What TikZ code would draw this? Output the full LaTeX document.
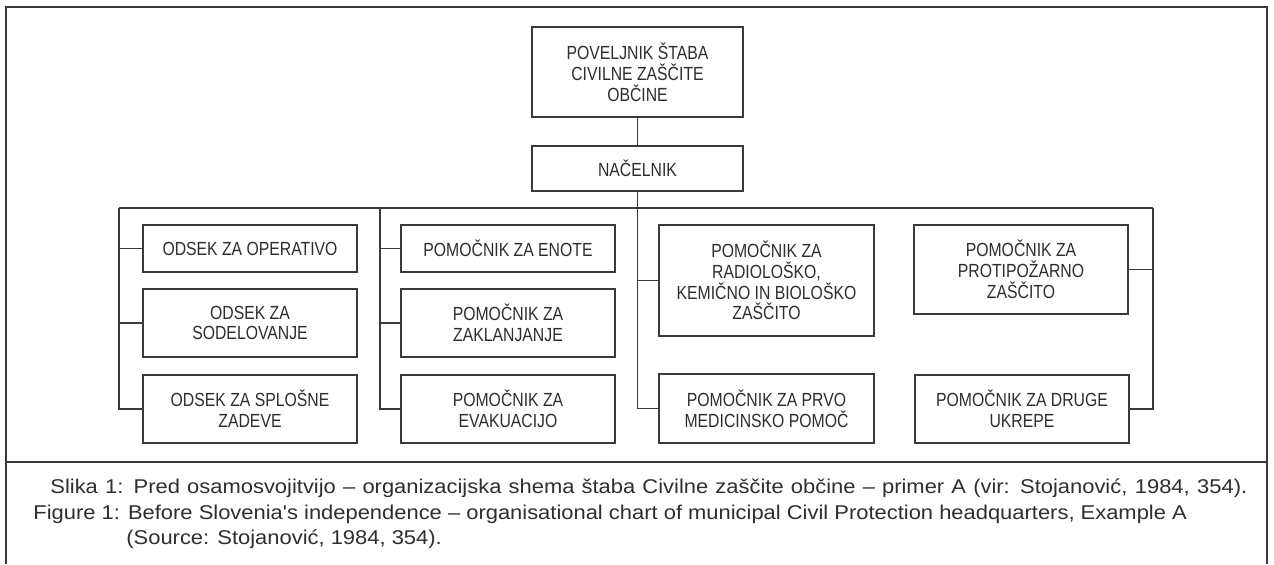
\documentclass[tikz,border=0pt]{standalone}
\usepackage{fontspec}
\setmainfont{Liberation Sans}[FakeStretch=0.83]
\newfontfamily\capfont{Liberation Sans}[FakeStretch=1.1]
\usetikzlibrary{calc}
\definecolor{ink}{HTML}{2E2E2E}
\definecolor{rule}{HTML}{3A3A3A}
\tikzset{
  orgbox/.style={draw=rule, line width=0.7pt, fill=white, inner sep=0pt,
    align=center, text=ink, font=\fontsize{9.5}{10.4}\selectfont},
  sz/.style 2 args={minimum width=#1*0.5pt, minimum height=#2*0.5pt},
  link/.style={draw=rule, line width=0.65pt},
  frameline/.style={draw=rule, line width=0.7pt},
  captext/.style={anchor=base west, inner sep=0pt, text=ink,
    font=\capfont\fontsize{9.97}{12}\selectfont},
}
\begin{document}
\begin{tikzpicture}[x=0.5pt, y=-0.5pt]
  \useasboundingbox (0,0) rectangle (1274,564);

  % outer frame and caption separator
  \draw[frameline] (6,564) -- (6,7) -- (1267,7) -- (1267,564);
  \draw[frameline] (6,462) -- (1267,462);

  % head of the staff
  \node[orgbox, sz={211}{90}] (top) at (637.5,72)
    {POVELJNIK ŠTABA\\CIVILNE ZAŠČITE\\OBČINE};
  \node[orgbox, sz={211}{45}] (nac) at (637.5,168.5) {NAČELNIK};

  % first column: sections
  \node[orgbox, sz={214}{47}] (o1) at (250,248.5) {ODSEK ZA OPERATIVO};
  \node[orgbox, sz={214}{68}] (o2) at (250,323) {ODSEK ZA\\SODELOVANJE};
  \node[orgbox, sz={214}{68}] (o3) at (250,409) {ODSEK ZA SPLOŠNE\\ZADEVE};

  % second column: assistants
  \node[orgbox, sz={214}{47}] (p1) at (508,248.5) {POMOČNIK ZA ENOTE};
  \node[orgbox, sz={214}{68}] (p2) at (508,323) {POMOČNIK ZA\\ZAKLANJANJE};
  \node[orgbox, sz={214}{68}] (p3) at (508,409) {POMOČNIK ZA\\EVAKUACIJO};

  % third column
  \node[orgbox, sz={215}{111}] (r1) at (766.5,280.5)
    {POMOČNIK ZA\\RADIOLOŠKO,\\KEMIČNO IN BIOLOŠKO\\ZAŠČITO};
  \node[orgbox, sz={215}{69}] (r2) at (766.5,408.5)
    {POMOČNIK ZA PRVO\\MEDICINSKO POMOČ};

  % fourth column
  \node[orgbox, sz={214}{89}] (s1) at (1021,269.5)
    {POMOČNIK ZA\\PROTIPOŽARNO\\ZAŠČITO};
  \node[orgbox, sz={214}{68}] (s2) at (1022,409)
    {POMOČNIK ZA DRUGE\\UKREPE};

  % bus and branch points
  \coordinate (busL) at (119,208);
  \coordinate (busB) at (380,208);
  \coordinate (busR) at (1153,208);

  \draw[link] (top.south) -- (nac.north);
  \draw[link] (busL) -- (busR);

  \draw[link] (busL) -- (busL |- o3.west) -- (o3.west);
  \draw[link] (busL |- o1.west) -- (o1.west);
  \draw[link] (busL |- o2.west) -- (o2.west);

  \draw[link] (busB) -- (busB |- p3.west) -- (p3.west);
  \draw[link] (busB |- p1.west) -- (p1.west);
  \draw[link] (busB |- p2.west) -- (p2.west);

  \draw[link] (nac.south) -- (nac.south |- r2.west) -- (r2.west);
  \draw[link] (nac.south |- r1.west) -- (r1.west);

  \draw[link] (busR) -- (busR |- s2.east) -- (s2.east);
  \draw[link] (busR |- s1.east) -- (s1.east);

  % caption
  \node[captext] (capsl) at (50,493)
    {\makebox[598.5pt][s]{Slika 1: Pred osamosvojitvijo – organizacijska shema štaba Civilne zaščite občine – primer A (vir: Stojanović, 1984, 354).}};
  \node[captext] (capfa) at (33,519)
    {Figure 1: Before Slovenia's independence – organisational chart of municipal Civil Protection headquarters, Example A};
  \node[captext] (capfb) at (126,544) {(Source: Stojanović, 1984, 354).};
\end{tikzpicture}
\end{document}
